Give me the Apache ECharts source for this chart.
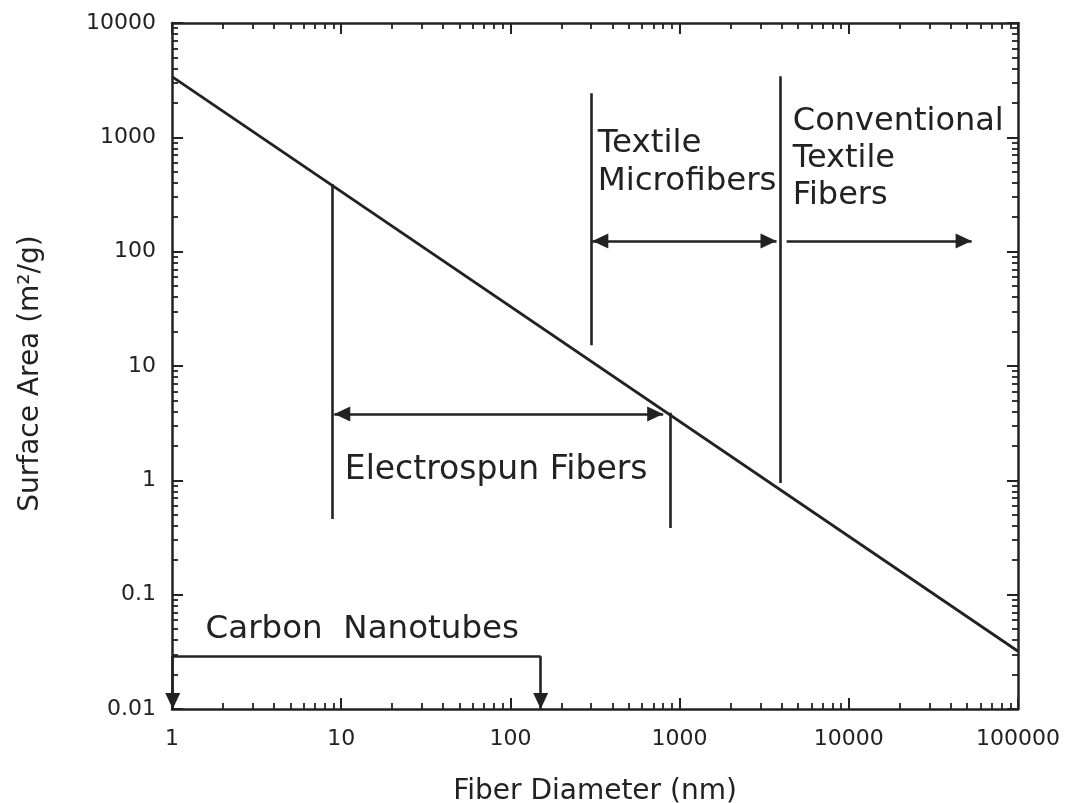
<!DOCTYPE html>
<html>
<head>
<meta charset="utf-8">
<script src="https://cdn.jsdelivr.net/npm/echarts@6.0.0/dist/echarts.min.js"></script>
<style>
html,body{margin:0;padding:0;background:#fff;}
#chart{width:1069px;height:803px;}
</style>
</head>
<body>
<div id="chart"></div>
<script>
// ---- data ----
const diameterNm = [1, 100000];
const surfaceArea = [3400, 0.032];

const xTickValues = [1, 10, 100, 1000, 10000, 100000];
const xTickLabels = ['1', '10', '100', '1000', '10000', '100000'];
const yTickValues = [0.01, 0.1, 1, 10, 100, 1000, 10000];
const yTickLabels = ['0.01', '0.1', '1', '10', '100', '1000', '10000'];

// boundary lines: [x, yLow, yHigh]
const electrospunLeft = [8.8, 0.46, 390];
const electrospunRight = [875, 0.383, 3.9];
const microfiberLeft = [300, 15.2, 2430];
const conventionalLeft = [3950, 0.95, 3420];
// range arrows: [xFrom, xTo, y]
const electrospunArrow = [9.1, 800, 3.8];
const microfiberArrow = [305, 3740, 124];
const conventionalArrow = [4290, 53200, 124];
// nanotube bracket: [xLeft, xRight, yTop, yBottom]
const nanotubeBracket = [1.01, 151, 0.029, 0.01];

// annotation texts and their data anchors [x, y] (left edge, middle of first line)
const annotationTexts = ['Electrospun Fibers', 'Carbon  Nanotubes', 'Textile\nMicrofibers', 'Conventional\nTextile\nFibers'];
const annotationAnchors = [[10.5, 1.22], [1.58, 0.0497], [328, 879], [4670, 1383]];
const annotationSizes = [33, 32.5, 32.5, 32];

// ---- chart ----
const INK = '#222';
const FONT = 'DejaVu Sans';
const ARROW = [15, 16];

function minorTicks(fromExp, toExp) {
  const out = [];
  for (let e = fromExp; e < toExp; e++) {
    for (let m = 2; m <= 9; m++) out.push(m * Math.pow(10, e));
  }
  return out;
}
const xMinor = minorTicks(0, 5);
const yMinor = minorTicks(-2, 4);

function lookupLabel(values, labels, v) {
  for (let i = 0; i < values.length; i++) {
    if (Math.abs(Math.log10(values[i]) - Math.log10(v)) < 1e-6) return labels[i];
  }
  return '';
}

function makeX(position, major, showLabel) {
  return {
    type: 'log', logBase: 10, min: 1, max: 100000, position: position,
    axisLine: { show: major, lineStyle: { color: INK, width: 2.5 } },
    axisTick: { show: true, inside: true, length: major ? 11 : 6,
      customValues: major ? xTickValues : xMinor,
      lineStyle: { color: INK, width: major ? 2 : 1.8 } },
    axisLabel: { show: showLabel, customValues: xTickValues, margin: 19,
      color: INK, fontFamily: FONT, fontSize: 22,
      formatter: v => lookupLabel(xTickValues, xTickLabels, v) },
    splitLine: { show: false }, minorTick: { show: false },
    name: showLabel ? 'Fiber Diameter (nm)' : '',
    nameLocation: 'middle', nameGap: 69,
    nameTextStyle: { color: INK, fontFamily: FONT, fontSize: 28 }
  };
}
function makeY(position, major, showLabel) {
  return {
    type: 'log', logBase: 10, min: 0.01, max: 10000, position: position,
    axisLine: { show: major, lineStyle: { color: INK, width: 2.5 } },
    axisTick: { show: true, inside: true, length: major ? 11 : 6,
      customValues: major ? yTickValues : yMinor,
      lineStyle: { color: INK, width: major ? 2 : 1.8 } },
    axisLabel: { show: showLabel, customValues: yTickValues, margin: 16,
      color: INK, fontFamily: FONT, fontSize: 22,
      formatter: v => lookupLabel(yTickValues, yTickLabels, v) },
    splitLine: { show: false }, minorTick: { show: false },
    name: showLabel ? 'Surface Area (m²/g)' : '',
    nameLocation: 'middle', nameGap: 127,
    nameTextStyle: { color: INK, fontFamily: FONT, fontSize: 28, padding: [0, 15, 0, 0] }
  };
}

function end(coord, arrow) {
  return arrow
    ? { coord: coord, symbol: 'triangle', symbolSize: ARROW, symbolOffset: [0, ARROW[1] / 2] }
    : { coord: coord, symbol: 'none' };
}
function vSeg(b) {
  return [end([b[0], b[1]], false), end([b[0], b[2]], false)];
}
function hArrow(a, both) {
  return [end([a[0], a[2]], both), end([a[1], a[2]], true)];
}
const nb = nanotubeBracket;
const markLines = [
  vSeg(electrospunLeft), vSeg(electrospunRight), vSeg(microfiberLeft), vSeg(conventionalLeft),
  hArrow(electrospunArrow, true), hArrow(microfiberArrow, true), hArrow(conventionalArrow, false),
  [end([nb[0], nb[2]], false), end([nb[1], nb[2]], false)],
  [end([nb[0], nb[2]], false), end([nb[0], nb[3]], true)],
  [end([nb[1], nb[2]], false), end([nb[1], nb[3]], true)]
];

const chart = echarts.init(document.getElementById('chart'), null, { renderer: 'canvas' });
chart.setOption({
  animation: false,
  backgroundColor: '#fff',
  grid: { left: 172, right: 51, top: 23, bottom: 94, containLabel: false, outerBoundsMode: 'none' },
  xAxis: [makeX('bottom', true, true), makeX('bottom', false, false),
          makeX('top', true, false), makeX('top', false, false)],
  yAxis: [makeY('left', true, true), makeY('left', false, false),
          makeY('right', true, false), makeY('right', false, false)],
  series: [{
    type: 'line',
    xAxisIndex: 0, yAxisIndex: 0,
    data: diameterNm.map((d, i) => [d, surfaceArea[i]]),
    showSymbol: false, symbol: 'none',
    lineStyle: { color: INK, width: 2.8 },
    silent: true,
    markLine: {
      silent: true, animation: false,
      symbol: 'none',
      label: { show: false },
      lineStyle: { color: INK, width: 2.6, type: 'solid' },
      emphasis: { disabled: true },
      data: markLines
    }
  }]
});

const graphics = annotationTexts.map((t, i) => {
  const p = chart.convertToPixel({ xAxisIndex: 0, yAxisIndex: 0 }, annotationAnchors[i]);
  const size = annotationSizes[i];
  const lh = Math.round(size * 1.16);
  return {
    type: 'text', x: p[0], y: p[1] - lh / 2, silent: true,
    style: { text: t, font: size + 'px "' + FONT + '"', fill: INK,
      textAlign: 'left', textVerticalAlign: 'top', lineHeight: lh }
  };
});
chart.setOption({ graphic: graphics });
</script>
</body>
</html>
